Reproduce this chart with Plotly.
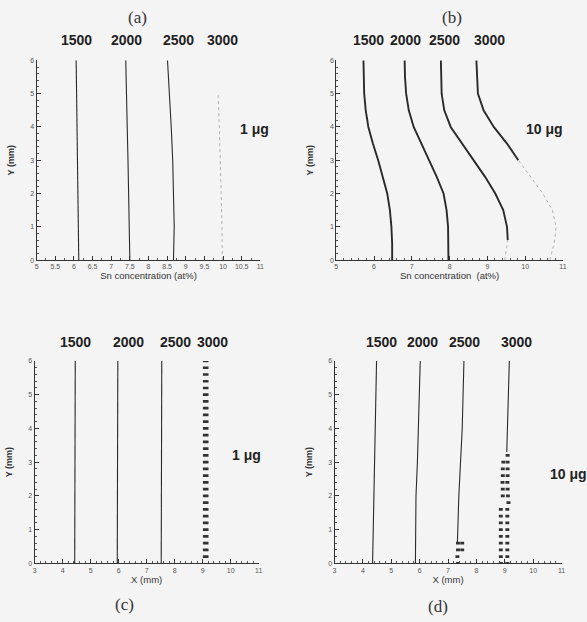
import plotly.graph_objects as go

W, H = 587, 622

# ---------------- data ----------------
# (a) 1 ug, Sn concentration vs Y
ya = [0, 1, 2, 3, 4, 5, 6]
a1500 = [6.13, 6.12, 6.11, 6.10, 6.08, 6.07, 6.06]
a2000 = [7.50, 7.49, 7.47, 7.45, 7.43, 7.41, 7.39]
a2500 = [8.67, 8.69, 8.67, 8.65, 8.61, 8.56, 8.51]
ya3000 = [0, 0.5, 1, 2, 3, 4, 5]
a3000 = [9.98, 9.98, 9.97, 9.95, 9.93, 9.90, 9.87]

# (b) 10 ug
yb = [0, 0.5, 1, 1.5, 2, 2.5, 3, 3.5, 4, 4.5, 5, 5.5, 6]
b1500 = [6.48, 6.48, 6.46, 6.42, 6.35, 6.24, 6.11, 5.97, 5.85, 5.78, 5.74, 5.73, 5.72]
b2000 = [7.97, 7.97, 7.96, 7.92, 7.84, 7.66, 7.46, 7.24, 7.05, 6.92, 6.85, 6.82, 6.81]
yb2500 = [0.6, 1, 1.5, 2, 2.5, 3, 3.5, 4, 4.5, 5, 5.5, 6]
b2500 = [9.54, 9.52, 9.42, 9.21, 8.94, 8.64, 8.32, 8.03, 7.86, 7.79, 7.78, 7.77]
yb2500d = [0, 0.3, 0.6]
b2500d = [9.46, 9.50, 9.54]
yb3000 = [3, 3.5, 4, 4.5, 5, 5.5, 6]
b3000 = [9.82, 9.52, 9.17, 8.90, 8.75, 8.72, 8.71]
yb3000d = [0, 0.5, 1, 1.5, 2, 2.5, 3]
b3000d = [10.65, 10.77, 10.82, 10.72, 10.47, 10.15, 9.82]

# (c) 1 ug, X position vs Y
yc = [0, 6]
c1500 = [4.43, 4.45]
c2000 = [5.95, 5.97]
c2500 = [7.52, 7.54]
yc3000m = [0.2, 0.4, 0.6, 0.8, 1.0, 1.2, 1.4, 1.6, 1.8, 2.0, 2.2, 2.4, 2.6, 2.8, 3.0,
           3.2, 3.4, 3.6, 3.8, 4.0, 4.2, 4.4, 4.6, 4.8, 5.0, 5.2, 5.4, 5.6, 5.8, 6.0]
c3000m = [9.11] * 30

# (d) 10 ug
yd1500 = [0, 2, 4, 6]
d1500 = [4.34, 4.38, 4.43, 4.48]
yd2000 = [0, 1, 2, 3, 4, 5, 6]
d2000 = [5.85, 5.86, 5.87, 5.92, 5.96, 5.99, 6.02]
yd2500 = [0.6, 1, 2, 3, 4, 5, 6]
d2500 = [7.33, 7.34, 7.38, 7.44, 7.50, 7.53, 7.56]
yd2500m = [0.6, 0.6, 0.4, 0.4, 0.2, 0.0]
d2500m = [7.35, 7.50, 7.35, 7.50, 7.33, 7.35]
yd3000 = [3.3, 4, 5, 6]
d3000 = [9.07, 9.09, 9.12, 9.16]
yd3000m = [3.2, 3.0, 3.0, 2.8, 2.8, 2.6, 2.6, 2.4, 2.4, 2.2, 2.2, 2.0, 2.0, 1.8,
           1.6, 1.6, 1.4, 1.4, 1.2, 1.2, 1.0, 1.0, 0.8, 0.8, 0.6, 0.6, 0.4, 0.4,
           0.2, 0.2, 0.0, 0.0]
d3000m = [9.10, 8.95, 9.10, 8.93, 9.10, 8.93, 9.10, 8.92, 9.09, 8.93, 9.10, 8.93, 9.11, 9.13,
          8.86, 9.09, 8.86, 9.09, 8.86, 9.09, 8.86, 9.09, 8.86, 9.09, 8.86, 9.09, 8.86, 9.09,
          8.86, 9.09, 8.86, 9.09]

temps = ["1500", "2000", "2500", "3000"]

# ---------------- figure ----------------
fig = go.Figure()
DARK = "#2a2a2a"
DOT = "#b0b0b0"


def line(x, y, ax, width=1.1, color=DARK, dash="solid"):
    fig.add_trace(go.Scatter(x=x, y=y, mode="lines", xaxis="x" + ax, yaxis="y" + ax,
                             line=dict(color=color, width=width, dash=dash),
                             showlegend=False, hoverinfo="skip"))


def marks(x, y, ax, size=4):
    fig.add_trace(go.Scatter(x=x, y=y, mode="markers", xaxis="x" + ax, yaxis="y" + ax,
                             marker=dict(symbol="line-ew", size=size,
                                         line=dict(color="#333333", width=2.6)),
                             showlegend=False, hoverinfo="skip"))


# (a)
line(a1500, ya, "")
line(a2000, ya, "")
line(a2500, ya, "")
line(a3000, ya3000, "", width=1, color=DOT, dash="dot")
# (b)
line(b1500, yb, "2", width=1.9)
line(b2000, yb, "2", width=1.9)
line(b2500, yb2500, "2", width=1.9)
line(b2500d, yb2500d, "2", width=1, color=DOT, dash="dot")
line(b3000, yb3000, "2", width=1.9)
line(b3000d, yb3000d, "2", width=1, color=DOT, dash="dot")
# (c)
line(c1500, yc, "3")
line(c2000, yc, "3")
line(c2500, yc, "3")
marks(c3000m, yc3000m, "3", size=4)
# (d)
line(d1500, yd1500, "4")
line(d2000, yd2000, "4")
line(d2500, yd2500, "4")
line(d3000, yd3000, "4")
marks(d2500m, yd2500m, "4", size=2.8)
marks(d3000m, yd3000m, "4", size=2.8)


def px2x(px):
    return px / W


def px2y(py):
    return 1 - py / H


tickfont = dict(family="Liberation Sans", size=7, color="#555555")
titlefont = dict(family="Liberation Sans", size=9.5, color="#333333")


def xaxis(dom, rng, dtick, title, minor_dt, anchor):
    return dict(domain=dom, range=rng, dtick=dtick, tick0=rng[0], ticks="inside",
                ticklen=4, tickwidth=1, tickcolor="#333", showline=True,
                linecolor="#333", linewidth=1, showgrid=False, zeroline=False,
                tickfont=tickfont, anchor=anchor,
                minor=dict(dtick=minor_dt, ticks="inside", ticklen=2, tickcolor="#555",
                           showgrid=False),
                title=dict(text=title, font=titlefont, standoff=1))


def yaxis(dom, anchor):
    return dict(domain=dom, range=[0, 6], dtick=1, ticks="inside", ticklen=4,
                tickwidth=1, tickcolor="#333", showline=True, linecolor="#333",
                linewidth=1, showgrid=False, zeroline=False, tickfont=tickfont,
                anchor=anchor,
                minor=dict(dtick=0.2, ticks="inside", ticklen=2, tickcolor="#555",
                           showgrid=False),
                title=dict(text="<b>Y (mm)</b>", font=dict(family="Liberation Sans", size=9,
                                                           color="#333"), standoff=14))


top_dom = [px2y(259), px2y(57)]
bot_dom = [px2y(565.7), px2y(361)]

fig.update_layout(
    width=W, height=H, margin=dict(l=0, r=0, t=0, b=0),
    paper_bgcolor="#f4f4f4", plot_bgcolor="rgba(0,0,0,0)",
    xaxis=xaxis([px2x(35), px2x(261)], [5, 11], 0.5, "Sn concentration (at%)", 0.25, "y"),
    yaxis=yaxis(top_dom, "x"),
    xaxis2=xaxis([px2x(337.7), px2x(566.7)], [5, 11], 1, "Sn concentration  (at%)", 0.2, "y2"),
    yaxis2=yaxis(top_dom, "x2"),
    xaxis3=xaxis([px2x(33), px2x(259.3)], [3, 11], 1, "X (mm)", 0.2, "y3"),
    yaxis3=yaxis(bot_dom, "x3"),
    xaxis4=xaxis([px2x(336), px2x(565.3)], [3, 11], 1, "X (mm)", 0.2, "y4"),
    yaxis4=yaxis(bot_dom, "x4"),
)

ann = []


def add_text(txt, x, y, font):
    ann.append(dict(text=txt, x=px2x(x), y=px2y(y), xref="paper", yref="paper",
                    xanchor="center", yanchor="middle", showarrow=False, font=font))


serif = dict(family="Liberation Serif", size=17, color="#333333")
for txt, x, y in [("(a)", 137, 14), ("(b)", 455, 14), ("(c)", 124, 607), ("(d)", 440, 609)]:
    add_text(txt, x, y, serif)

boldf = dict(family="Liberation Sans", size=14, color="#222222")
label_pos = {
    "a": ([75, 126, 178, 223], 36),
    "b": ([370, 408, 447, 493], 36),
    "c": ([74, 128, 175, 213], 342),
    "d": ([383, 425, 467, 520], 342),
}
for key, (xs, y) in label_pos.items():
    for t, x in zip(temps, xs):
        add_text("<b>%s</b>" % t, x, y, boldf)

gf = dict(family="Liberation Sans", size=14, color="#222222")
for txt, x, y in [("<b>1 μg</b>", 255, 126), ("<b>10 μg</b>", 548, 126),
                  ("<b>1 μg</b>", 247, 456), ("<b>10 μg</b>", 572, 475)]:
    add_text(txt, x, y, gf)

fig.update_layout(annotations=ann)
fig.write_html("out.html", config={"displayModeBar": False},
               post_script="document.body.style.margin='0px';")
